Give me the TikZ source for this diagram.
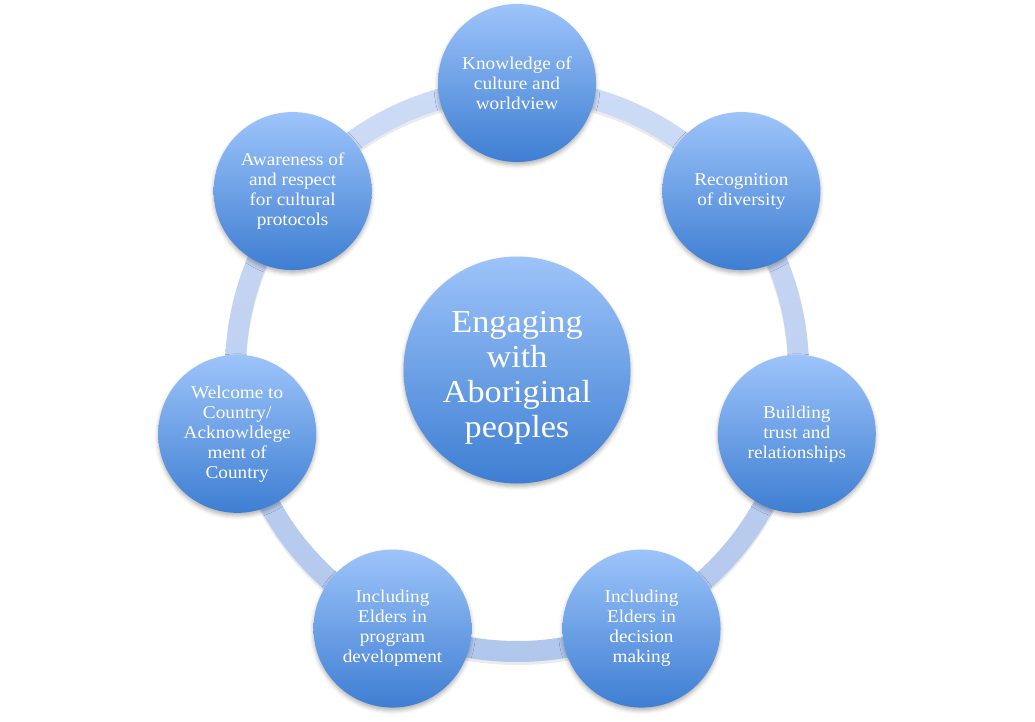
\documentclass[tikz,border=0pt]{standalone}
\usepackage{fontspec}
\setmainfont{Liberation Serif}[FakeStretch=1.07]
\usetikzlibrary{shadows.blur,calc}
\definecolor{ctop}{RGB}{157,196,250}
\definecolor{cbot}{RGB}{62,126,210}
\definecolor{rtop}{RGB}{206,220,246}
\definecolor{rbot}{RGB}{176,198,236}
\tikzset{
  item/.style={circle, draw=none, minimum size=158pt, inner sep=0pt,
    top color=ctop, bottom color=cbot, shading angle=0,
    text=white, align=center, font=\fontsize{18pt}{20pt}\selectfont,
    blur shadow={shadow xshift=0pt, shadow yshift=-3pt, shadow blur radius=4pt, shadow opacity=30}},
  hub/.style={item, minimum size=227pt},
  hubtext/.style={text=white, align=center, inner sep=0pt, font=\fontsize{32pt}{35pt}\selectfont},
}
\begin{document}
\begin{tikzpicture}[x=1pt,y=-1pt]
\useasboundingbox (0,0) rectangle (1035,722);
\coordinate (C) at (517,370);
\coordinate (Cs) at (517,373);
% ring shadow
\fill[black, opacity=0.08, even odd rule] (Cs) circle (292) (Cs) circle (271);
% ring
\begin{scope}[even odd rule]
  \clip (C) circle (292) (C) circle (271);
  \shade[top color=rtop, bottom color=rbot] (200,70) rectangle (840,670);
\end{scope}
\node[hub] (hub) at (C) {};
\node[hubtext] (hubt) at ($(hub.center)+(0,8)$) {Engaging\\with\\Aboriginal\\peoples};
\node[item] (n1) at ($(C)+(-90:287)$) {Knowledge of\\culture and\\worldview};
\node[item] (n2) at ($(C)+(-38.571:287)$) {Recognition\\of diversity};
\node[item] (n3) at ($(C)+(12.857:287)$) {Building\\trust and\\relationships};
\node[item] (n4) at ($(C)+(64.286:287)$) {Including\\Elders in\\decision\\making};
\node[item] (n5) at ($(C)+(115.714:287)$) {Including\\Elders in\\program\\development};
\node[item] (n6) at ($(C)+(167.143:287)$) {Welcome to\\Country/\\Acknowldege\\ment of\\Country};
\node[item] (n7) at ($(C)+(218.571:287)$) {Awareness of\\and respect\\for cultural\\protocols};
\end{tikzpicture}
\end{document}
